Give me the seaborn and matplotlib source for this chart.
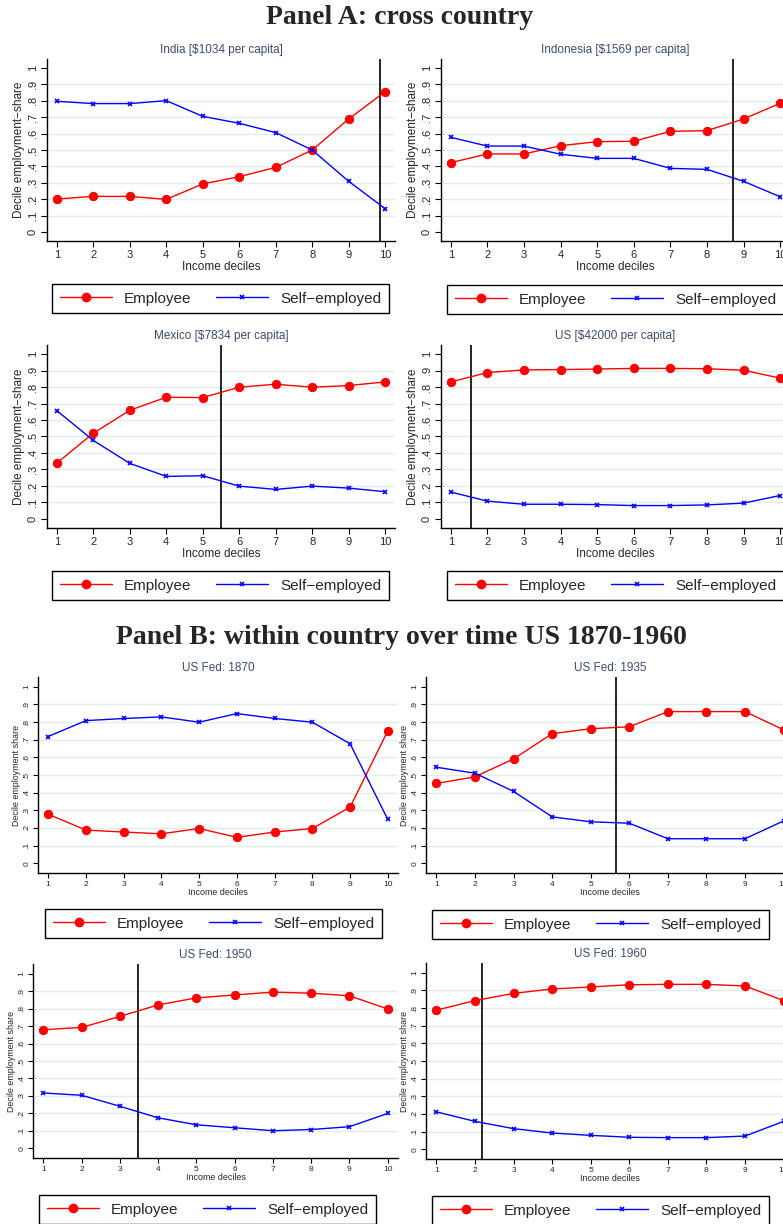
import matplotlib
matplotlib.use("Agg")
import matplotlib.pyplot as plt
from matplotlib.lines import Line2D
import seaborn as sns

# ---------------- data ----------------
deciles = [1, 2, 3, 4, 5, 6, 7, 8, 9, 10]
y_ticks = [0, 0.1, 0.2, 0.3, 0.4, 0.5, 0.6, 0.7, 0.8, 0.9, 1.0]
y_tick_labels = ["0", ".1", ".2", ".3", ".4", ".5", ".6", ".7", ".8", ".9", "1"]

india_emp = [0.201, 0.217, 0.217, 0.199, 0.293, 0.337, 0.394, 0.500, 0.689, 0.856]
india_self = [0.797, 0.783, 0.783, 0.801, 0.705, 0.663, 0.606, 0.500, 0.309, 0.142]
indonesia_emp = [0.423, 0.476, 0.476, 0.526, 0.551, 0.553, 0.614, 0.618, 0.689, 0.785]
indonesia_self = [0.577, 0.524, 0.524, 0.474, 0.449, 0.449, 0.388, 0.382, 0.309, 0.215]
mexico_emp = [0.339, 0.520, 0.659, 0.738, 0.736, 0.799, 0.817, 0.799, 0.809, 0.831]
mexico_self = [0.657, 0.476, 0.337, 0.258, 0.262, 0.199, 0.179, 0.199, 0.187, 0.165]
us_emp = [0.831, 0.888, 0.904, 0.906, 0.909, 0.913, 0.913, 0.911, 0.902, 0.854]
us_self = [0.163, 0.108, 0.089, 0.089, 0.087, 0.081, 0.081, 0.085, 0.096, 0.142]
fed1870_emp = [0.278, 0.188, 0.177, 0.167, 0.197, 0.147, 0.177, 0.197, 0.318, 0.750]
fed1870_self = [0.718, 0.808, 0.820, 0.829, 0.799, 0.848, 0.820, 0.799, 0.677, 0.248]
fed1935_emp = [0.452, 0.490, 0.591, 0.734, 0.762, 0.773, 0.859, 0.859, 0.859, 0.756]
fed1935_self = [0.544, 0.510, 0.407, 0.263, 0.235, 0.227, 0.139, 0.139, 0.139, 0.240]
fed1950_emp = [0.679, 0.692, 0.755, 0.821, 0.861, 0.878, 0.894, 0.888, 0.873, 0.798]
fed1950_self = [0.317, 0.304, 0.241, 0.175, 0.135, 0.118, 0.101, 0.108, 0.124, 0.200]
fed1960_emp = [0.788, 0.842, 0.883, 0.908, 0.919, 0.932, 0.934, 0.934, 0.925, 0.842]
fed1960_self = [0.212, 0.158, 0.117, 0.092, 0.079, 0.068, 0.066, 0.066, 0.075, 0.158]

panel_titles = ["India [$1034 per capita]", "Indonesia [$1569 per capita]",
                "Mexico [$7834 per capita]", "US [$42000 per capita]",
                "US Fed: 1870", "US Fed: 1935", "US Fed: 1950", "US Fed: 1960"]
cutoffs = [9.87, 8.72, 5.50, 1.55, None, 5.66, 3.48, 2.19]
series_emp = [india_emp, indonesia_emp, mexico_emp, us_emp,
              fed1870_emp, fed1935_emp, fed1950_emp, fed1960_emp]
series_self = [india_self, indonesia_self, mexico_self, us_self,
               fed1870_self, fed1935_self, fed1950_self, fed1960_self]
legend_labels = ["Employee", "Self\u2212employed"]
x_label = "Income deciles"
y_label_a = "Decile employment\u2212share"
y_label_b = "Decile employment share"
main_titles = ["Panel A: cross country", "Panel B: within country over time US 1870-1960"]

# ---------------- layout ----------------
sns.set_style("white")
plt.rcParams["font.family"] = ["Liberation Sans", "DejaVu Sans"]

W, H = 783, 1224
fig = plt.figure(figsize=(W / 100, H / 100), dpi=100)
fig.patch.set_facecolor("white")


def rect(l, r, t, b):
    return [l / W, 1 - b / H, (r - l) / W, (b - t) / H]


# (left, right, top, bottom) of axes in px, legend (left, top) in px, panel group
layout = [
    ((47, 395, 59, 241), (52, 284), "A"),
    ((441, 790, 59, 241), (447, 285), "A"),
    ((47, 395, 345, 528), (52, 571), "A"),
    ((441, 790, 345, 528), (447, 571), "A"),
    ((38, 398, 677, 873), (45, 909), "B"),
    ((426, 794, 677, 873), (432, 910), "B"),
    ((33, 398, 964, 1158), (39, 1195), "B"),
    ((426, 794, 963, 1159), (432, 1196), "B"),
]

RED = "#ff0000"
BLUE = "#0000ff"
GRID = "#e3ecee"
TITLE_C = "#3d4c6e"

for i, ((l, r, t, b), (lx, ly), grp) in enumerate(layout):
    ax = fig.add_axes(rect(l, r, t, b))
    ax.set_facecolor("white")
    for yv in y_ticks[1:-1]:
        ax.axhline(yv, color=GRID, lw=1.0, zorder=0)
    if cutoffs[i] is not None:
        ax.axvline(cutoffs[i], color="black", lw=1.2, zorder=1)
    sns.lineplot(x=deciles, y=series_emp[i], ax=ax, color=RED, lw=1.0,
                 marker="o", markersize=6, markeredgecolor=RED,
                 markerfacecolor=RED, zorder=3, legend=False)
    sns.lineplot(x=deciles, y=series_self[i], ax=ax, color=BLUE, lw=1.0,
                 marker="x", markersize=3.5, markeredgewidth=1.2,
                 markeredgecolor=BLUE, zorder=3, legend=False)
    ax.set_xlim(0.73, 10.27)
    ax.set_ylim(-0.055, 1.055)
    ax.set_xticks(deciles)
    ax.set_yticks(y_ticks)
    ax.set_yticklabels(y_tick_labels, rotation=90, va="center")
    for s in ["top", "right"]:
        ax.spines[s].set_visible(False)
    for s in ["left", "bottom"]:
        ax.spines[s].set_color("black")
        ax.spines[s].set_linewidth(1.0)
    if grp == "A":
        tick_fs, lab_fs = 8, 8.5
        ylab = y_label_a
        ax.tick_params(axis="both", which="major", direction="out", length=4.5,
                       width=0.8, color="black", labelsize=tick_fs, pad=2, left=True,
                       bottom=True)
    else:
        tick_fs, lab_fs = 6.0, 6.4
        ylab = y_label_b
        ax.tick_params(axis="both", which="major", direction="out", length=3.5,
                       width=0.8, color="black", labelsize=tick_fs, pad=2, left=True,
                       bottom=True)
    ax.set_xlabel(x_label, fontsize=lab_fs, labelpad=0.5)
    ax.set_ylabel(ylab, fontsize=lab_fs, labelpad=2)
    ax.set_title(panel_titles[i], fontsize=8.5, color=TITLE_C, pad=4)

    handles = [
        Line2D([], [], color=RED, lw=1.0, marker="o", markersize=6),
        Line2D([], [], color=BLUE, lw=1.0, marker="x", markersize=3.5,
               markeredgewidth=1.2),
    ]
    leg = fig.legend(handles, legend_labels, ncol=2, loc="upper left",
                     bbox_to_anchor=(lx / W, 1 - ly / H), bbox_transform=fig.transFigure,
                     borderaxespad=0, fontsize=11, frameon=True, fancybox=False,
                     edgecolor="black", framealpha=1, borderpad=0.5,
                     handlelength=3.4, handletextpad=0.8, columnspacing=1.6)
    leg.get_frame().set_linewidth(1.0)

fig.text(400 / W, 1 - 18 / H, main_titles[0], ha="center", va="center",
         fontsize=20, fontweight="bold", family="Liberation Serif")
fig.text(401 / W, 1 - 637 / H, main_titles[1], ha="center", va="center",
         fontsize=20, fontweight="bold", family="Liberation Serif")

fig.savefig("out.png", dpi=100, facecolor="white")
